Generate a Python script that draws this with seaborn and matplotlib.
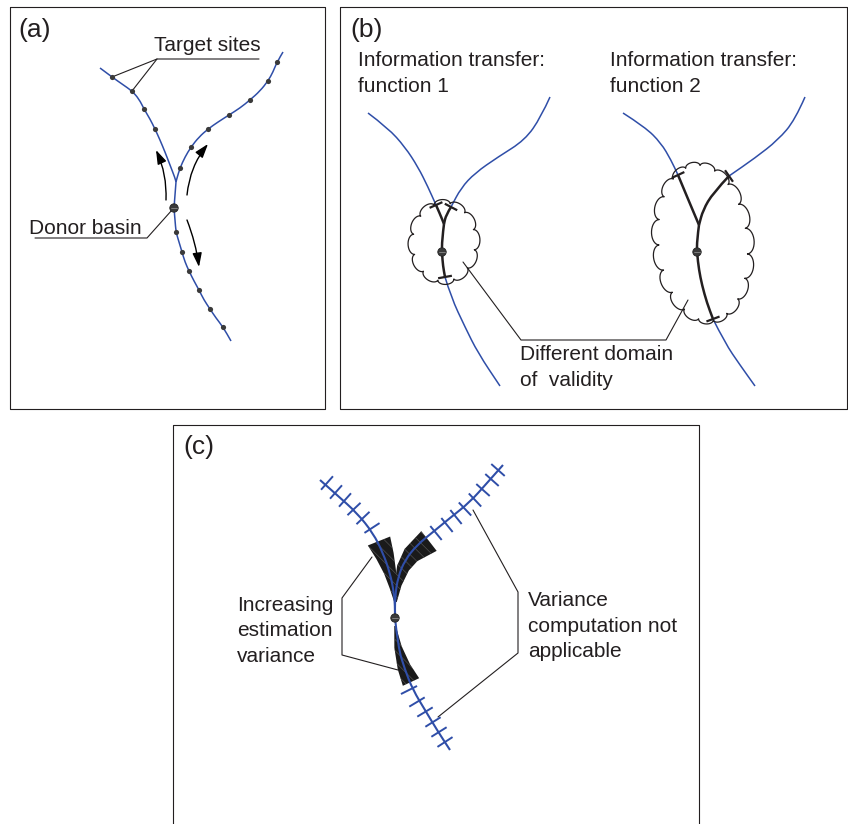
import numpy as np
import matplotlib
matplotlib.use("Agg")
import matplotlib.pyplot as plt
import seaborn as sns
from matplotlib.patches import FancyArrowPatch, Polygon, Circle, PathPatch
from matplotlib.path import Path

sns.set_theme(style="white")
plt.rcParams["font.family"] = ["Liberation Sans", "DejaVu Sans"]
plt.rcParams["hatch.linewidth"] = 0.4

BLUE = "#2f4ea8"
INK = "#231f20"

# ---- panel (a): river network, pixel coordinates ----
a_left = [(100, 68), (112, 77), (122, 84), (132, 91), (139, 99), (144, 109), (150, 119),
          (155, 129), (160, 140), (165, 152), (170, 165), (175, 178), (176, 182)]
a_right = [(283, 52), (277, 62), (273, 72), (268, 81), (260, 91), (250, 100), (240, 108),
           (229, 115), (218, 122), (208, 129), (199, 137), (191, 147), (185, 157),
           (180, 168), (177, 178), (176, 182)]
a_stem = [(176, 182), (175, 195), (174, 208), (175, 220), (176, 232), (179, 242), (182, 252),
          (185, 262), (189, 271), (194, 281), (199, 290), (204, 300), (210, 309), (216, 318),
          (223, 327), (231, 341)]
a_sites_x = [112, 132, 144, 155, 277, 268, 250, 229, 208, 191, 180, 176, 182, 189, 199, 210, 223]
a_sites_y = [77, 91, 109, 129, 62, 81, 100, 115, 129, 147, 168, 232, 252, 271, 290, 309, 327]
a_donor = (174, 208)

# ---- panel (b): two transfer functions ----
b1_left = [(368, 113), (388, 128), (405, 147), (418, 167), (428, 187), (436, 205)]
b1_left_in = [(436, 205), (440, 214), (444, 224)]
b1_right = [(550, 97), (541, 117), (525, 140), (498, 157), (475, 173), (461, 188), (451, 207)]
b1_right_in = [(451, 207), (446, 215), (444, 224)]
b1_stem_in = [(444, 224), (442, 240), (442, 253), (443, 266), (445, 277)]
b1_stem = [(445, 277), (451, 297), (465, 327), (478, 353), (500, 386)]
b1_ticks = [(436, 205), (451, 207), (445, 277)]
b1_cloud = dict(c=(444, 242), a=31, b=39, n=12, rot=0)

b2_left = [(623, 113), (645, 127), (661, 143), (671, 160), (678, 175)]
b2_left_in = [(678, 175), (688, 199), (699, 225)]
b2_right = [(805, 97), (795, 120), (778, 140), (755, 158), (729, 176)]
b2_right_in = [(729, 176), (713, 193), (703, 210), (699, 225)]
b2_stem_in = [(699, 225), (697, 240), (697, 253), (699, 270), (702, 285), (707, 303), (713, 319)]
b2_stem = [(713, 319), (725, 343), (740, 365), (755, 386)]
b2_ticks = [(678, 175), (729, 176), (713, 319)]
b2_cloud = dict(c=(703, 243), a=44, b=78, n=19, rot=-6)

# ---- panel (c): estimation variance ----
c_left = [(320, 480), (337, 495), (357, 513), (373, 533), (383, 553), (390, 573),
          (394, 593), (395, 607), (395, 618)]
c_right = [(503, 465), (487, 483), (470, 502), (450, 518), (433, 532), (417, 545),
           (405, 560), (398, 577), (395, 597), (395, 618)]
c_stem = [(395, 618), (398, 647), (405, 670), (413, 690), (425, 710), (437, 730), (450, 750)]
c_ticks_left = [(327, 483), (336, 492), (345, 500), (354, 509), (363, 518), (372, 528)]
c_ticks_right = [(498, 470), (492, 480), (483, 490), (475, 500), (465, 509), (456, 517),
                 (447, 525), (436, 533)]
c_ticks_stem = [(409, 690), (417, 702), (425, 712), (433, 722), (439, 732), (445, 742)]
c_band_left = [(395, 602), (393, 588), (390, 572), (385, 556), (379, 541)]
c_band_right = [(396, 602), (398, 585), (403, 568), (411, 555), (429, 541)]
c_band_stem = [(395, 626), (398, 647), (404, 667), (411, 682)]
c_donor = (395, 618)


def river(ax, pts, color=BLUE, lw=1.1):
    # smooth quadratic path through the read points
    p = np.asarray(pts, float)
    verts = [p[0]]
    codes = [Path.MOVETO]
    for i in range(1, len(p) - 1):
        verts += [p[i], (p[i] + p[i + 1]) / 2]
        codes += [Path.CURVE3, Path.CURVE3]
    verts.append(p[-1])
    codes.append(Path.LINETO)
    ax.add_patch(PathPatch(Path(verts, codes), facecolor="none", edgecolor=color,
                           lw=lw, capstyle="butt", zorder=3))


def cross_ticks(ax, path, pts, half, color, lw):
    path = np.asarray(path, float)
    for p in np.asarray(pts, float):
        i = int(np.argmin(np.linalg.norm(path - p, axis=1)))
        a = path[max(i - 1, 0)]
        b = path[min(i + 1, len(path) - 1)]
        t = (b - a) / np.linalg.norm(b - a)
        n = np.array([-t[1], t[0]])
        q = np.array([p - half * n, p + half * n])
        ax.plot(q[:, 0], q[:, 1], color=color, lw=lw, solid_capstyle="butt", zorder=4)


def cloud(ax, c, a, b, n, rot):
    th = np.linspace(0, 2 * np.pi, n + 1) + 0.2
    r = np.deg2rad(rot)
    ex = a * np.cos(th)
    ey = b * np.sin(th)
    px = c[0] + ex * np.cos(r) - ey * np.sin(r)
    py = c[1] + ex * np.sin(r) + ey * np.cos(r)
    out = []
    for k in range(n):
        p0 = np.array([px[k], py[k]])
        p1 = np.array([px[k + 1], py[k + 1]])
        m = (p0 + p1) / 2
        h = np.linalg.norm(p1 - p0) / 2
        u = (p1 - p0) / (2 * h)
        nv = np.array([-u[1], u[0]])
        if np.dot(nv, m - np.array(c)) < 0:
            nv = -nv
        phi = np.linspace(0, np.pi, 18)
        seg = m - h * np.cos(phi)[:, None] * u + 0.6 * h * np.sin(phi)[:, None] * nv
        out.append(seg)
    out = np.vstack(out)
    ax.plot(out[:, 0], out[:, 1], color=INK, lw=0.9, zorder=3)


def band(ax, pts, w_end):
    p = np.asarray(pts, float)
    L = np.r_[0, np.cumsum(np.hypot(*np.diff(p, axis=0).T))]
    t = np.gradient(p, axis=0)
    t /= np.linalg.norm(t, axis=1)[:, None]
    nv = np.c_[-t[:, 1], t[:, 0]]
    w = (1.5 + (w_end - 1.5) * L / L[-1]) / 2
    poly = np.vstack([p + nv * w[:, None], (p - nv * w[:, None])[::-1]])
    ax.add_patch(Polygon(poly, closed=True, facecolor="#1a1a1a", edgecolor="#5c5c5c",
                         lw=0, hatch="\\\\\\", zorder=2))


def donor(ax, xy, r=4.2):
    ax.add_patch(Circle(xy, r, facecolor="#3a3a3a", edgecolor="#222", lw=0.6, zorder=5))
    ax.plot([xy[0] - r * 0.8, xy[0] + r * 0.8], [xy[1], xy[1]], color="#9a9a9a",
            lw=0.5, zorder=6)


def text_lines(ax, x, y0, lines, step=25.5, size=15):
    for k, s in enumerate(lines):
        ax.text(x, y0 + k * step, s, fontsize=size, color=INK, ha="left", va="baseline")


def leader(ax, pts):
    p = np.asarray(pts, float)
    ax.plot(p[:, 0], p[:, 1], color=INK, lw=0.8)


fig = plt.figure(figsize=(8.48, 8.24), dpi=100)
ax = fig.add_axes([0, 0, 1, 1])

# panel frames
leader(ax, [(10, 7), (325, 7), (325, 409), (10, 409), (10, 7)])
leader(ax, [(340, 7), (847, 7), (847, 409), (340, 409), (340, 7)])
leader(ax, [(173, 824), (173, 425), (699, 425), (699, 824)])

# ---- (a) ----
for seg in (a_left, a_right, a_stem):
    river(ax, seg)
sns.scatterplot(x=a_sites_x, y=a_sites_y, color="#3a3a3a", s=14, linewidth=0, ax=ax,
                zorder=4, legend=False)
donor(ax, a_donor)
arrow_kw = dict(arrowstyle="-|>,head_length=0.6,head_width=0.2", mutation_scale=14,
                color="black", lw=1.0, shrinkA=0, shrinkB=0)
ax.add_patch(FancyArrowPatch((166, 200), (156, 150), connectionstyle="arc3,rad=0.12", **arrow_kw))
ax.add_patch(FancyArrowPatch((187, 195), (208, 144), connectionstyle="arc3,rad=-0.15", **arrow_kw))
ax.add_patch(FancyArrowPatch((187, 220), (199, 267), connectionstyle="arc3,rad=-0.06", **arrow_kw))
ax.text(18, 37, "(a)", fontsize=19, color=INK, va="baseline")
text_lines(ax, 154, 51, ["Target sites"])
leader(ax, [(259, 59), (157, 59), (112, 77)])
leader(ax, [(157, 59), (132, 91)])
text_lines(ax, 29, 234, ["Donor basin"])
leader(ax, [(35, 238), (147, 238), (172, 210)])

# ---- (b) ----
for seg in (b1_left, b1_right, b1_stem, b2_left, b2_right, b2_stem):
    river(ax, seg)
for seg in (b1_left_in, b1_right_in, b1_stem_in, b2_left_in, b2_right_in, b2_stem_in):
    river(ax, seg, color=INK, lw=1.8)
cross_ticks(ax, b1_left + b1_left_in, b1_ticks[:1], 7, INK, 1.6)
cross_ticks(ax, b1_right + b1_right_in, b1_ticks[1:2], 7, INK, 1.6)
cross_ticks(ax, b1_stem_in + b1_stem, b1_ticks[2:], 7, INK, 1.6)
cross_ticks(ax, b2_left + b2_left_in, b2_ticks[:1], 7, INK, 1.6)
cross_ticks(ax, b2_right + b2_right_in, b2_ticks[1:2], 7, INK, 1.6)
cross_ticks(ax, b2_stem_in + b2_stem, b2_ticks[2:], 7, INK, 1.6)
cloud(ax, **b1_cloud)
cloud(ax, **b2_cloud)
donor(ax, (442, 252))
donor(ax, (697, 252))
ax.text(350, 37, "(b)", fontsize=19, color=INK, va="baseline")
text_lines(ax, 358, 66, ["Information transfer:", "function 1"])
text_lines(ax, 610, 66, ["Information transfer:", "function 2"])
text_lines(ax, 520, 360, ["Different domain", "of  validity"])
leader(ax, [(463, 262), (521, 340), (666, 340), (688, 300)])

# ---- (c) ----
band(ax, c_band_left, 24)
band(ax, c_band_right, 25)
band(ax, c_band_stem, 18)
for seg in (c_left, c_right, c_stem):
    river(ax, seg, lw=1.5)
cross_ticks(ax, c_left, c_ticks_left, 9, BLUE, 1.4)
cross_ticks(ax, c_right, c_ticks_right, 9, BLUE, 1.4)
cross_ticks(ax, c_stem, c_ticks_stem, 9, BLUE, 1.4)
donor(ax, c_donor)
ax.text(183, 454, "(c)", fontsize=19, color=INK, va="baseline")
text_lines(ax, 237, 611, ["Increasing", "estimation", "variance"])
leader(ax, [(372, 557), (342, 598), (342, 655), (398, 670)])
text_lines(ax, 528, 606, ["Variance", "computation not", "applicable"])
leader(ax, [(473, 510), (518, 592), (518, 653), (438, 717)])

ax.set_xlim(0, 848)
ax.set_ylim(824, 0)
ax.set_axis_off()
fig.savefig("out.png", dpi=100)
